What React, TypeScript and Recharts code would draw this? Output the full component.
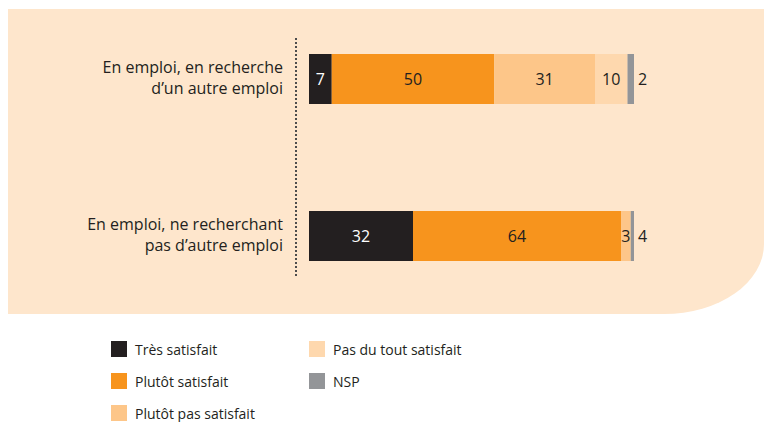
import { BarChart, Bar, XAxis, YAxis, LabelList, Legend } from "recharts";

const categories = [
  ["En emploi, en recherche", "d’un autre emploi"],
  ["En emploi, ne recherchant", "pas d’autre emploi"],
];

const tresSatisfait = [7, 32];
const plutotSatisfait = [50, 64];
const plutotPasSatisfait = [31, 3];
const pasDuToutSatisfait = [10, 0];
const nsp = [2, 1];
const nspLabels = ["2", "4"];

const FONT = "'Open Sans', sans-serif";
const TEXT = "#231F20";

const series = [
  { key: "tres", name: "Très satisfait", color: "#231F20", label: "#FFFFFF" },
  { key: "plutot", name: "Plutôt satisfait", color: "#F7941D", label: TEXT },
  { key: "plutotPas", name: "Plutôt pas satisfait", color: "#FDC689", label: TEXT },
  { key: "pasDuTout", name: "Pas du tout satisfait", color: "#FED8AE", label: TEXT },
  { key: "nsp", name: "NSP", color: "#939598", label: TEXT },
];

const data = categories.map((lines, i) => ({
  name: lines.join("\n"),
  tres: tresSatisfait[i],
  plutot: plutotSatisfait[i],
  plutotPas: plutotPasSatisfait[i],
  pasDuTout: pasDuToutSatisfait[i],
  nsp: nsp[i],
}));

const CategoryTick = ({ y, payload }: any) => {
  const lines = String(payload.value).split("\n");
  return (
    <text x={283} y={y} textAnchor="end" fontFamily={FONT} fontSize={16} fill={TEXT} dominantBaseline="central">
      {lines.map((l, i) => (
        <tspan key={i} x={283} y={y - 1 + (i - (lines.length - 1) / 2) * 21}>
          {l}
        </tspan>
      ))}
    </text>
  );
};

const inside = (fill: string) => (props: any) => {
  const { x, y, width, height, value } = props;
  if (!value) return null;
  return (
    <text x={x + width / 2} y={y + height / 2} textAnchor="middle" dominantBaseline="central" fontFamily={FONT} fontSize={16} fill={fill}>
      {value}
    </text>
  );
};

const outside = (props: any) => {
  const { x, y, width, height, index } = props;
  return (
    <text x={x + width + 4} y={y + height / 2} textAnchor="start" dominantBaseline="central" fontFamily={FONT} fontSize={16} fill={TEXT}>
      {nspLabels[index]}
    </text>
  );
};

const legendOrder = ["tres", "plutot", "plutotPas", "pasDuTout", "nsp"];

const LegendBox = () => (
  <div
    style={{
      display: "grid",
      gridAutoFlow: "column",
      gridTemplateRows: "repeat(3, 32px)",
      gridTemplateColumns: "198px 200px",
      fontFamily: FONT,
      fontSize: 14,
      color: TEXT,
    }}
  >
    {legendOrder.map((k) => {
      const s = series.find((x) => x.key === k)!;
      return (
        <div key={k} style={{ display: "flex", alignItems: "center", height: 16 }}>
          <span style={{ width: 16, height: 16, background: s.color, display: "inline-block", marginRight: 8 }} />
          <span>{s.name}</span>
        </div>
      );
    })}
  </div>
);

export default function App() {
  return (
    <div style={{ position: "absolute", left: 0, top: 0, width: 764, height: 422, background: "#fff" }}>
      <div
        style={{
          position: "absolute",
          left: 8,
          top: 9,
          width: 756,
          height: 305,
          background: "#FEE6CC",
          borderBottomRightRadius: "100px 70px",
        }}
      />
      <svg width={764} height={422} style={{ position: "absolute", left: 0, top: 0 }}>
        <line x1={296} x2={296} y1={38} y2={277} stroke="#4D4D4D" strokeWidth={2} strokeDasharray="2 2" />
      </svg>
      <div style={{ position: "absolute", left: 0, top: 0 }}>
        <BarChart
          width={764}
          height={422}
          data={data}
          layout="vertical"
          margin={{ top: 0, right: 130, bottom: 108, left: 0 }}
          barSize={50}
        >
          <XAxis type="number" domain={[0, 100]} hide />
          <YAxis
            type="category"
            dataKey="name"
            width={309}
            axisLine={false}
            tickLine={false}
            tick={<CategoryTick />}
          />
          {series.map((s) => (
            <Bar key={s.key} dataKey={s.key} name={s.name} stackId="a" fill={s.color} isAnimationActive={false}>
              {s.key === "nsp" ? (
                <LabelList dataKey={s.key} content={outside} />
              ) : (
                <LabelList dataKey={s.key} content={inside(s.label)} />
              )}
            </Bar>
          ))}
          <Legend
            layout="vertical"
            align="center"
            verticalAlign="middle"
            content={() => <LegendBox />}
            wrapperStyle={{ left: 111, top: 341, width: 420, height: 80 }}
          />
        </BarChart>
      </div>
    </div>
  );
}
